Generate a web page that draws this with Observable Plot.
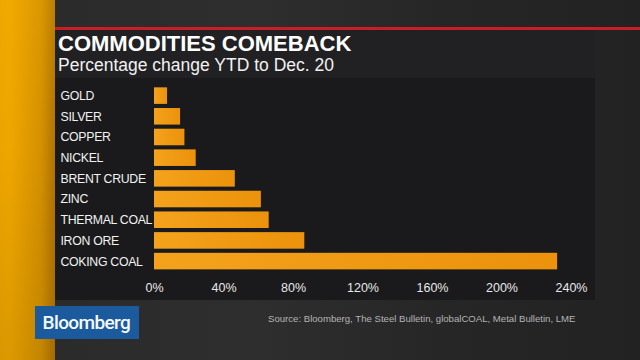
<!DOCTYPE html>
<html>
<head>
<meta charset="utf-8">
<script src="https://cdn.jsdelivr.net/npm/d3@7"></script>
<script src="https://cdn.jsdelivr.net/npm/@observablehq/plot@0.6"></script>
<style>
  html, body { margin: 0; padding: 0; }
  body { width: 640px; height: 360px; overflow: hidden; position: relative;
         background: linear-gradient(90deg, #2a2a2b 0%, #2e2e2f 40%, #262627 70%, #222223 100%);
         font-family: "Liberation Sans", Arial, sans-serif; }
  #strip { position: absolute; left: 0; top: 0; width: 55px; height: 360px;
           background: linear-gradient(90deg, #eca400 0%, #eea600 18%, #e39c00 45%, #d49000 75%, #b07400 100%); }
  #stripshade { position: absolute; left: 0; top: 0; width: 55px; height: 360px;
           background: linear-gradient(180deg, rgba(255,190,0,0.15) 0%, rgba(0,0,0,0) 40%, rgba(0,0,0,0.08) 100%); }
  #redline { position: absolute; left: 55px; top: 27px; width: 585px; height: 3px; background: #c81e28; }
  #titlepanel { position: absolute; left: 55px; top: 30px; width: 540px; height: 48px; background: #212124; }
  #title { position: absolute; left: 58px; top: 33.4px; font-size: 22px; line-height: 22px; font-weight: bold;
           color: #ffffff; letter-spacing: 0px; white-space: nowrap; }
  #subtitle { position: absolute; left: 58px; top: 56.7px; font-size: 17.5px; line-height: 17.5px;
              color: #f2f2f2; white-space: nowrap; }
  #chart { position: absolute; left: 55px; top: 78px; }
  #logo { position: absolute; left: 35px; top: 306px; width: 104px; height: 33px; background: #1b5a9c; }
  #logotext { position: absolute; left: 42.5px; top: 310.8px; font-family: Roboto, "Liberation Sans", sans-serif;
              font-weight: 500; font-size: 19px; line-height: 24px; color: #f4f8ff; letter-spacing: -0.6px; white-space: nowrap; }
  #source { position: absolute; left: 268px; top: 313px; font-size: 9.6px; line-height: 12px; color: #b4b4b4; white-space: nowrap; }
</style>
</head>
<body>
<div id="strip"></div>
<div id="stripshade"></div>
<div id="redline"></div>
<div id="titlepanel"></div>
<div id="title">COMMODITIES COMEBACK</div>
<div id="subtitle">Percentage change YTD to Dec. 20</div>
<div id="chart"></div>
<div id="logo"></div>
<div id="logotext">Bloomberg</div>
<div id="source">Source: Bloomberg, The Steel Bulletin, globalCOAL, Metal Bulletin, LME</div>
<script>
const categories = ["GOLD", "SILVER", "COPPER", "NICKEL", "BRENT CRUDE", "ZINC", "THERMAL COAL", "IRON ORE", "COKING COAL"];
const values = [7.5, 15, 17.5, 24, 46.5, 61.5, 66, 86.5, 232];
const xTicks = [0, 40, 80, 120, 160, 200, 240];

const data = categories.map((c, i) => ({name: c, value: values[i]}));

const chart = Plot.plot({
  width: 540,
  height: 222,
  marginLeft: 99,
  marginRight: 24,
  marginTop: 5.2,
  marginBottom: 26.5,
  style: {background: "#1a1a1c", color: "#ececec", fontFamily: "'Liberation Sans', Arial, sans-serif", overflow: "visible"},
  x: {domain: [0, 240], ticks: xTicks, tickFormat: d => d + "%"},
  y: {domain: categories, padding: 0.2, round: false},
  marks: [
    Plot.barX(data, {x: "value", y: "name", fill: "#f29b12"}),
    Plot.axisX({ticks: xTicks, tickFormat: d => d + "%", tickSize: 0, tickPadding: 9, fontSize: 12.5, fill: "#e8e8e8", label: null}),
    Plot.axisY({tickSize: 0, tickPadding: 0, textAnchor: "start", dx: -94, fontSize: 12.3, fill: "#f2f2f2", label: null})
  ]
});

const svg = d3.select(chart);
// slightly tighter category labels, as in the reference
svg.selectAll("g[aria-label='y-axis tick label'] text").style("letter-spacing", "-0.3px");

// horizontal gradient for the bars
const defs = svg.insert("defs", ":first-child");
const grad = defs.append("linearGradient").attr("id", "barGrad").attr("x1", "0").attr("x2", "1").attr("y1", "0").attr("y2", "0");
grad.append("stop").attr("offset", "0%").attr("stop-color", "#f4a21c");
grad.append("stop").attr("offset", "100%").attr("stop-color", "#ec920c");
svg.selectAll("g[aria-label='bar'] rect").attr("fill", "url(#barGrad)");

document.getElementById("chart").appendChild(chart);
</script>
</body>
</html>
